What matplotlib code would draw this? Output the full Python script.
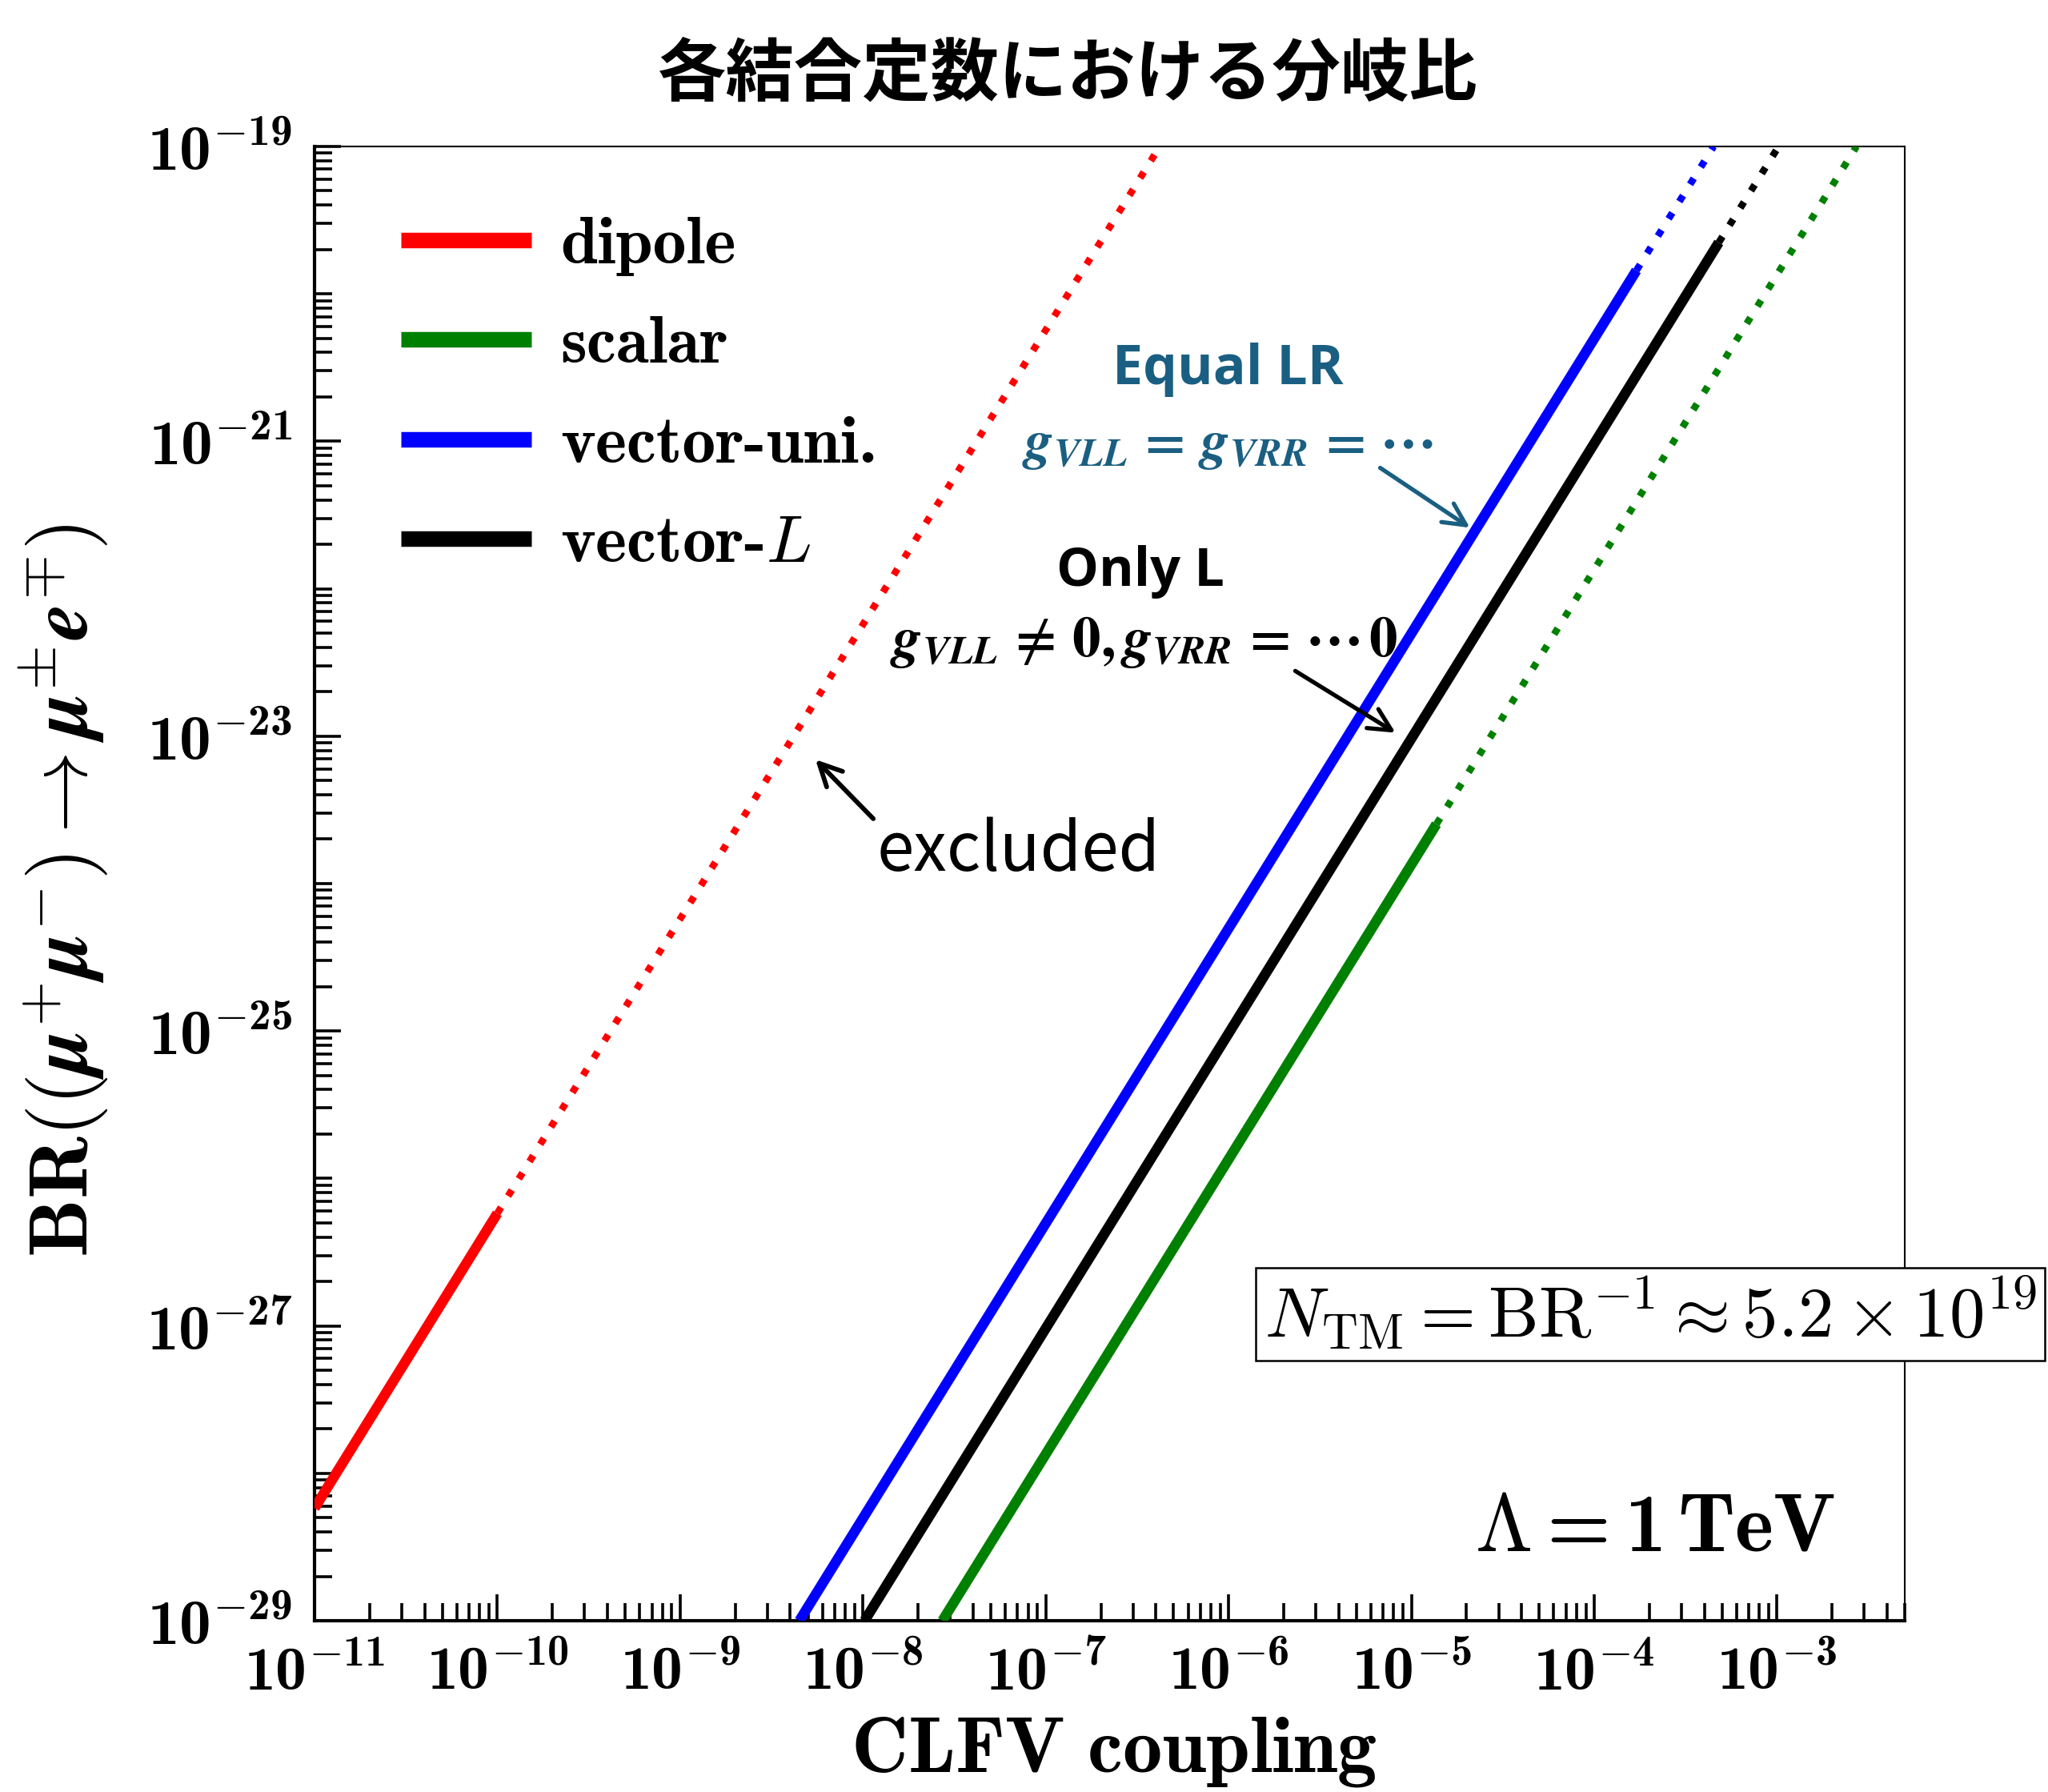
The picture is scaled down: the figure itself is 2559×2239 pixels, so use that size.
import math
import matplotlib
matplotlib.use("Agg")
import matplotlib.pyplot as plt
from matplotlib.ticker import FixedLocator, LogLocator, NullFormatter, FuncFormatter
from matplotlib.lines import Line2D

plt.rcParams['mathtext.fontset'] = 'cm'
plt.rcParams['mathtext.rm'] = 'cmr10'
plt.rcParams['mathtext.it'] = 'cmmi10'
plt.rcParams['mathtext.bf'] = 'cmb10'
plt.rcParams['mathtext.fallback'] = 'cm'

# ---------------- data ----------------
# solid = allowed range, dotted = excluded continuation (BR vs coupling)
dipole_solid_g = [1.0e-11, 1.0e-10]
dipole_solid_br = [5.8e-29, 5.8e-27]
dipole_dot_g = [1.0e-10, 4.2e-7]
dipole_dot_br = [5.8e-27, 1.0e-19]

scalar_solid_g = [2.72e-8, 1.37e-5]
scalar_solid_br = [1.0e-29, 2.53e-24]
scalar_dot_g = [1.37e-5, 2.72e-3]
scalar_dot_br = [2.53e-24, 1.0e-19]

vuni_solid_g = [4.49e-9, 1.7e-4]
vuni_solid_br = [1.0e-29, 1.44e-20]
vuni_dot_g = [1.7e-4, 4.5e-4]
vuni_dot_br = [1.44e-20, 1.0e-19]

vL_solid_g = [1.02e-8, 4.8e-4]
vL_solid_br = [1.0e-29, 2.23e-20]
vL_dot_g = [4.8e-4, 1.02e-3]
vL_dot_br = [2.23e-20, 1.0e-19]

series_names = ["dipole", "scalar", "vector-uni.", "vector-$\\mathit{L}$"]
series_colors = ["#ff0000", "#008000", "#0000ff", "#000000"]

x_tick_exponents = [-11, -10, -9, -8, -7, -6, -5, -4, -3]
y_tick_exponents = [-29, -27, -25, -23, -21, -19]

title_text = "各結合定数における分岐比"
xlabel_text = r"$\mathbf{CLFV\ coupling}$"
ylabel_text = r"$\mathbf{BR}((\mathbfit{\mu}^{+}\mathbfit{\mu}^{-})\rightarrow\mathbfit{\mu}^{\pm}\mathbfit{e}^{\mp})$"

# ---------------- figure ----------------
fig = plt.figure(figsize=(25.59, 22.39), dpi=100)
ax = fig.add_axes([0.1536, 0.0956, 0.7765, 0.8227])
ax.set_xscale('log')
ax.set_yscale('log')
ax.set_xlim(1e-11, 5e-3)
ax.set_ylim(1e-29, 1e-19)

solid_lw = 9.2
dot_lw = 6.3
dot_style = (0, (1, 1.9))

sets = [
    (dipole_solid_g, dipole_solid_br, dipole_dot_g, dipole_dot_br, series_colors[0]),
    (scalar_solid_g, scalar_solid_br, scalar_dot_g, scalar_dot_br, series_colors[1]),
    (vuni_solid_g, vuni_solid_br, vuni_dot_g, vuni_dot_br, series_colors[2]),
    (vL_solid_g, vL_solid_br, vL_dot_g, vL_dot_br, series_colors[3]),
]
for sg, sb, dg, db, c in sets:
    ax.plot(sg, sb, color=c, lw=solid_lw, solid_capstyle='butt', zorder=3)
    ax.plot(dg, db, color=c, lw=dot_lw, linestyle=dot_style, dash_capstyle='butt', zorder=3)

# ticks
ax.xaxis.set_major_locator(FixedLocator([10.0 ** e for e in x_tick_exponents]))
ax.xaxis.set_minor_locator(LogLocator(base=10, subs=range(1, 10), numticks=100))
ax.yaxis.set_major_locator(FixedLocator([10.0 ** e for e in y_tick_exponents]))
ax.yaxis.set_minor_locator(LogLocator(base=10, subs=range(1, 10), numticks=100))
ax.xaxis.set_minor_formatter(NullFormatter())
ax.yaxis.set_minor_formatter(NullFormatter())


def fmt(v, pos):
    e = int(round(math.log10(v)))
    return r"$\mathbf{10^{%d}}$" % e


ax.xaxis.set_major_formatter(FuncFormatter(fmt))
ax.yaxis.set_major_formatter(FuncFormatter(fmt))

ax.tick_params(axis='both', which='both', direction='in', top=False, right=False)
ax.tick_params(axis='both', which='major', length=24, width=2.6)
ax.tick_params(axis='both', which='minor', length=16, width=2.6)
ax.tick_params(axis='x', which='major', labelsize=56, pad=19)
ax.tick_params(axis='y', which='major', labelsize=57, pad=20)

for lbl in ax.get_xticklabels() + ax.get_yticklabels():
    lbl.set_math_fontfamily('custom')

for s in ['left', 'bottom']:
    ax.spines[s].set_linewidth(3.0)
for s in ['top', 'right']:
    ax.spines[s].set_linewidth(1.5)

# legend
handles = [Line2D([], [], color=c, lw=14, solid_capstyle='butt') for c in series_colors]
leg = ax.legend(handles, series_names, loc='upper left', bbox_to_anchor=(0.0165, 0.993),
                frameon=False, handlelength=1.96, handletextpad=0.43, labelspacing=0.6,
                prop={'family': 'cmb10', 'size': 60})

# annotations
teal = "#1a5f82"
ax.text(0.5742, 0.8485, "Equal LR", transform=ax.transAxes, ha='center', va='center',
        fontsize=49, fontweight='bold', family='Open Sans', color=teal)
ax.text(0.5742, 0.798, r"$\mathbfit{g}_{\mathbfit{VLL}}\mathbf{\,=\,}\mathbfit{g}_{\mathbfit{VRR}}\mathbf{\,=\,\cdots}$",
        transform=ax.transAxes, ha='center', va='center', fontsize=50, color=teal, math_fontfamily='stix')
ax.annotate("", xy=(0.7277, 0.7405), xytext=(0.6689, 0.7828), xycoords='axes fraction',
            arrowprops=dict(arrowstyle='->', color=teal, lw=3.8, mutation_scale=50))

ax.text(0.5194, 0.7112, "Only L", transform=ax.transAxes, ha='center', va='center',
        fontsize=48, fontweight='bold', family='Open Sans', color='black')
ax.text(0.5214, 0.6634, r"$\mathbfit{g}_{\mathbfit{VLL}}\mathbf{\,\neq\,0,}\mathbfit{g}_{\mathbfit{VRR}}\mathbf{\,=\,\cdots\,0}$",
        transform=ax.transAxes, ha='center', va='center', fontsize=51, color='black', math_fontfamily='stix')
ax.annotate("", xy=(0.6809, 0.6015), xytext=(0.6155, 0.6450), xycoords='axes fraction',
            arrowprops=dict(arrowstyle='->', color='black', lw=3.8, mutation_scale=50))

ax.text(0.4429, 0.5217, "excluded", transform=ax.transAxes, ha='center', va='center',
        fontsize=60, family='Noto Sans CJK JP', color='black')
ax.annotate("", xy=(0.3140, 0.5852), xytext=(0.3523, 0.5429), xycoords='axes fraction',
            arrowprops=dict(arrowstyle='->', color='black', lw=4.2, mutation_scale=50))

ax.text(0.840, 0.2079, r"$N_{\rm TM} = {\rm BR}^{-1} \approx 5.2\times10^{19}$",
        transform=ax.transAxes, ha='center', va='center', fontsize=64, color='black',
        bbox=dict(boxstyle='square,pad=0.12', fc='white', ec='black', lw=1.8), clip_on=False, zorder=5)

ax.text(0.9562, 0.063, r"$\mathbf{\Lambda = 1\,TeV}$", transform=ax.transAxes, ha='right', va='center',
        fontsize=74, color='black', math_fontfamily='custom')

# labels
fig.text(0.544, 0.0115, xlabel_text, ha='center', va='baseline', fontsize=71)
fig.text(0.031, 0.503, ylabel_text, ha='center', va='center', fontsize=74, rotation=90)
fig.text(0.5213, 0.9585, title_text, ha='center', va='center', fontsize=61.5, fontweight='bold',
         family=['Noto Sans CJK JP', 'DejaVu Sans'])

fig.savefig("out.png", dpi=100)
